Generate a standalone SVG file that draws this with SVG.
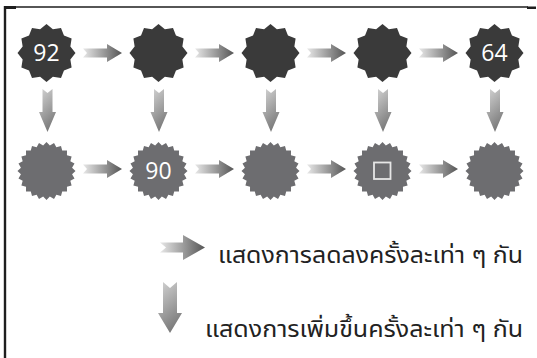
<svg xmlns="http://www.w3.org/2000/svg" width="537" height="358" viewBox="0 0 537 358">
<style>
.top{fill:#3a3a3a}
.bot{fill:#6d6d70}
.num{font-family:"Open Sans","Noto Sans",sans-serif;font-size:23px;fill:#ffffff;text-anchor:middle}
.leg{font-family:"Noto Sans Thai","Tahoma","Loma","Garuda",sans-serif;font-size:23px;fill:#222}
.frame{stroke:#1e1e1e;fill:none}
</style>
<defs>
<linearGradient id="gh" x1="0" y1="0" x2="1" y2="0">
<stop offset="0" stop-color="#e8e8e8"/>
<stop offset="1" stop-color="#555555"/>
</linearGradient>
<linearGradient id="gv" x1="0" y1="0" x2="0.4" y2="1">
<stop offset="0" stop-color="#d4d4d4"/>
<stop offset="1" stop-color="#7c7c7c"/>
</linearGradient>
<path id="star12" d="M0.00,-29.00 L6.39,-23.86 L14.50,-25.11 L17.47,-17.47 L25.11,-14.50 L23.86,-6.39 L29.00,0.00 L23.86,6.39 L25.11,14.50 L17.47,17.47 L14.50,25.11 L6.39,23.86 L0.00,29.00 L-6.39,23.86 L-14.50,25.11 L-17.47,17.47 L-25.11,14.50 L-23.86,6.39 L-29.00,0.00 L-23.86,-6.39 L-25.11,-14.50 L-17.47,-17.47 L-14.50,-25.11 L-6.39,-23.86 Z"/>
<path id="star24" d="M0.00,-29.00 L3.36,-25.57 L7.51,-28.01 L9.87,-23.83 L14.50,-25.11 L15.70,-20.46 L20.51,-20.51 L20.46,-15.70 L25.11,-14.50 L23.83,-9.87 L28.01,-7.51 L25.57,-3.36 L29.00,0.00 L25.57,3.36 L28.01,7.51 L23.83,9.87 L25.11,14.50 L20.46,15.70 L20.51,20.51 L15.70,20.46 L14.50,25.11 L9.87,23.83 L7.51,28.01 L3.36,25.57 L0.00,29.00 L-3.36,25.57 L-7.51,28.01 L-9.87,23.83 L-14.50,25.11 L-15.70,20.46 L-20.51,20.51 L-20.46,15.70 L-25.11,14.50 L-23.83,9.87 L-28.01,7.51 L-25.57,3.36 L-29.00,0.00 L-25.57,-3.36 L-28.01,-7.51 L-23.83,-9.87 L-25.11,-14.50 L-20.46,-15.70 L-20.51,-20.51 L-15.70,-20.46 L-14.50,-25.11 L-9.87,-23.83 L-7.51,-28.01 L-3.36,-25.57 Z"/>
<path id="ah" fill="url(#gh)" d="M0,-4.5 L24,-4.5 L24,-9 L39,0 L24,9 L24,4.5 L0,4.5 L4,0 Z"/>
<path id="av" fill="url(#gv)" d="M-5,0 L0,4 L5,0 L5,23 L8.5,23 L0,43 L-8.5,23 L-5,23 Z"/>
</defs>
<g id="frame">
<line class="frame" x1="4" y1="7" x2="528" y2="7" stroke-width="1.6"/>
<line class="frame" x1="5" y1="6" x2="5" y2="358" stroke-width="2.4"/>
<rect x="4" y="6" width="12" height="3" fill="#1e1e1e"/>
<rect x="527" y="6.5" width="9" height="2.5" fill="#1e1e1e"/>
</g>
<g id="connectors">
<use href="#ah" x="83" y="53"/>
<use href="#ah" x="195" y="53"/>
<use href="#ah" x="307" y="53"/>
<use href="#ah" x="419" y="53"/>
<use href="#ah" x="83" y="169"/>
<use href="#ah" x="195" y="169"/>
<use href="#ah" x="307" y="169"/>
<use href="#ah" x="419" y="169"/>
<use href="#av" x="47.5" y="89"/>
<use href="#av" x="159" y="89"/>
<use href="#av" x="271" y="89"/>
<use href="#av" x="383" y="89"/>
<use href="#av" x="495" y="89"/>
</g>
<g id="n1"><use href="#star12" class="top" x="46.5" y="53"/><text class="num" x="46.5" y="61">92</text></g>
<g id="n2"><use href="#star12" class="top" x="158.5" y="53"/></g>
<g id="n3"><use href="#star12" class="top" x="270.5" y="53"/></g>
<g id="n4"><use href="#star12" class="top" x="382.5" y="53"/></g>
<g id="n5"><use href="#star12" class="top" x="494.5" y="53"/><text class="num" x="494.5" y="61">64</text></g>
<g id="m1"><use href="#star24" class="bot" x="46.5" y="171"/></g>
<g id="m2"><use href="#star24" class="bot" x="158.5" y="171"/><text class="num" x="158.5" y="179">90</text></g>
<g id="m3"><use href="#star24" class="bot" x="270.5" y="171"/></g>
<g id="m4"><use href="#star24" class="bot" x="382.5" y="171"/><rect x="374" y="162.5" width="16.5" height="16.5" fill="none" stroke="#e6e6e6" stroke-width="1.8"/></g>
<g id="m5"><use href="#star24" class="bot" x="494.5" y="171"/></g>
<g id="legend">
<path fill="url(#gh)" d="M160,242.5 L183,242.5 L183,235 L205,247.5 L183,260 L183,252.5 L160,252.5 L166,247.5 Z"/>
<path fill="url(#gv)" d="M163,282 L170,288 L177,282 L177,313 L182,313 L170,333 L158,313 L163,313 Z"/>
<text class="leg" x="218" y="263" textLength="305" lengthAdjust="spacingAndGlyphs">แสดงการลดลงครั้งละเท่า ๆ กัน</text>
<text class="leg" x="205" y="337" textLength="318" lengthAdjust="spacingAndGlyphs">แสดงการเพิ่มขึ้นครั้งละเท่า ๆ กัน</text>
</g>
</svg>
